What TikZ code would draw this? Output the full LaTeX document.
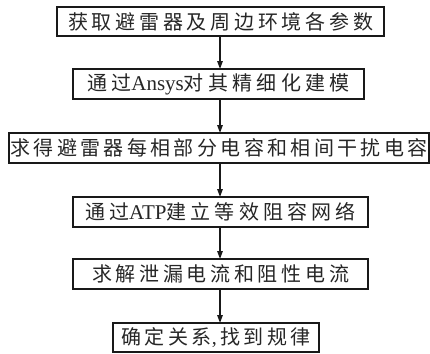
\documentclass[tikz,border=0pt]{standalone}
\usepackage{fontspec}
\setmainfont{Liberation Serif}
\newfontfamily\cjk{Noto Sans CJK SC}
\usetikzlibrary{arrows.meta}
\newcommand{\spread}[2]{\makebox[#1][s]{#2}}
\begin{document}
\begin{tikzpicture}[x=1pt,y=-1pt,
  stepbox/.style={draw=black!90,line width=1.4pt,inner sep=0pt,outer sep=0pt,
    text=black!85,font=\cjk\fontsize{20}{22}\selectfont,anchor=north west},
  arr/.style={draw=black!90,line width=1.4pt,-{Triangle[length=8pt,width=5.5pt]}}]
\useasboundingbox (0,0) rectangle (430,353);
\node[stepbox,minimum width=327pt,minimum height=29pt] (b1) at (57,7)
  {\spread{305pt}{获\hfill 取\hfill 避\hfill 雷\hfill 器\hfill 及\hfill 周\hfill 边\hfill 环\hfill 境\hfill 各\hfill 参\hfill 数}};
\node[stepbox,minimum width=291pt,minimum height=30pt] (b2) at (73,69)
  {\spread{263pt}{通\hfill 过{\rmfamily\fontsize{21}{22}\selectfont Ansys}对\hfill 其\hfill 精\hfill 细\hfill 化\hfill 建\hfill 模}};
\node[stepbox,minimum width=420pt,minimum height=30pt] (b3) at (9,133)
  {\spread{417pt}{求\hfill 得\hfill 避\hfill 雷\hfill 器\hfill 每\hfill 相\hfill 部\hfill 分\hfill 电\hfill 容\hfill 和\hfill 相\hfill 间\hfill 干\hfill 扰\hfill 电\hfill 容}};
\node[stepbox,minimum width=295pt,minimum height=30pt] (b4) at (73,197)
  {\spread{271pt}{通\hfill 过{\rmfamily\fontsize{21}{22}\selectfont ATP}建\hfill 立\hfill 等\hfill 效\hfill 阻\hfill 容\hfill 网\hfill 络}};
\node[stepbox,minimum width=295pt,minimum height=30pt] (b5) at (73,259)
  {\spread{257pt}{求\hfill 解\hfill 泄\hfill 漏\hfill 电\hfill 流\hfill 和\hfill 阻\hfill 性\hfill 电\hfill 流}};
\node[stepbox,minimum width=206pt,minimum height=29pt] (b6) at (113,323)
  {\spread{189pt}{确\hfill 定\hfill 关\hfill 系{\rmfamily ,}\hfill 找\hfill 到\hfill 规\hfill 律}};
\coordinate (ax) at (220,0);
\draw[arr] (b1.south -| ax) -- (b2.north -| ax);
\draw[arr] (b2.south -| ax) -- (b3.north -| ax);
\draw[arr] (b3.south -| ax) -- (b4.north -| ax);
\draw[arr] (b4.south -| ax) -- (b5.north -| ax);
\draw[arr] (b5.south -| ax) -- (b6.north -| ax);
\end{tikzpicture}
\end{document}
